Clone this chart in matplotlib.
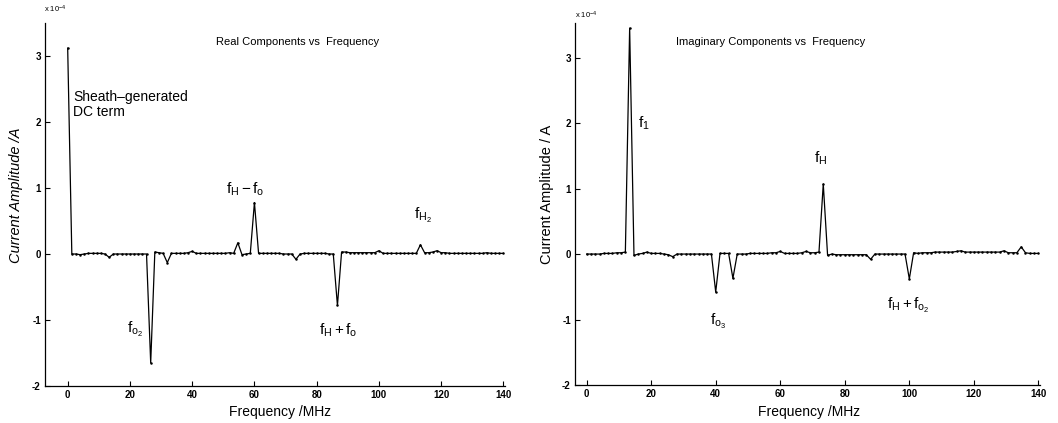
import matplotlib
matplotlib.use("Agg")
import matplotlib.pyplot as plt

plt.rcParams['font.family'] = ['Liberation Sans', 'DejaVu Sans']
plt.rcParams['mathtext.fontset'] = 'custom'
plt.rcParams['mathtext.rm'] = 'Liberation Sans'
plt.rcParams['mathtext.it'] = 'Liberation Sans'
plt.rcParams['axes.unicode_minus'] = False

# Frequency grid (MHz)
freq_mhz = [0, 1.33, 2.67, 4, 5.33, 6.67, 8, 9.33, 10.67, 12,
            13.33, 14.67, 16, 17.33, 18.67, 20, 21.33, 22.67, 24, 25.33,
            26.67, 28, 29.33, 30.67, 32, 33.33, 34.67, 36, 37.33, 38.67,
            40, 41.33, 42.67, 44, 45.33, 46.67, 48, 49.33, 50.67, 52,
            53.33, 54.67, 56, 57.33, 58.67, 60, 61.33, 62.67, 64, 65.33,
            66.67, 68, 69.33, 70.67, 72, 73.33, 74.67, 76, 77.33, 78.67,
            80, 81.33, 82.67, 84, 85.33, 86.67, 88, 89.33, 90.67, 92,
            93.33, 94.67, 96, 97.33, 98.67, 100, 101.33, 102.67, 104, 105.33,
            106.67, 108, 109.33, 110.67, 112, 113.33, 114.67, 116, 117.33, 118.67,
            120, 121.33, 122.67, 124, 125.33, 126.67, 128, 129.33, 130.67, 132,
            133.33, 134.67, 136, 137.33, 138.67, 140]

# Real components (x 1e-4 A)
real_amp = [3.12, 0.00, 0.00, -0.01, 0.00, 0.01, 0.01, 0.01, 0.01, 0.00,
            -0.05, 0.00, 0.00, 0.00, 0.00, 0.00, 0.00, 0.00, 0.00, 0.00,
            -1.65, 0.03, 0.02, 0.01, -0.13, 0.01, 0.01, 0.01, 0.01, 0.02,
            0.04, 0.01, 0.01, 0.01, 0.01, 0.01, 0.01, 0.01, 0.01, 0.02,
            0.01, 0.17, -0.01, 0.00, 0.01, 0.78, 0.01, 0.01, 0.01, 0.01,
            0.01, 0.01, 0.00, 0.00, 0.00, -0.08, 0.00, 0.01, 0.01, 0.01,
            0.01, 0.01, 0.01, 0.00, 0.00, -0.78, 0.03, 0.03, 0.02, 0.02,
            0.02, 0.02, 0.02, 0.02, 0.02, 0.05, 0.01, 0.01, 0.01, 0.01,
            0.01, 0.01, 0.01, 0.01, 0.01, 0.14, 0.02, 0.02, 0.03, 0.05,
            0.02, 0.02, 0.01, 0.01, 0.01, 0.01, 0.01, 0.01, 0.01, 0.01,
            0.01, 0.02, 0.01, 0.01, 0.01, 0.01]

# Imaginary components (x 1e-4 A)
imag_amp = [0.00, 0.00, 0.00, 0.00, 0.01, 0.01, 0.01, 0.02, 0.02, 0.03,
            3.45, -0.02, 0.00, 0.01, 0.03, 0.01, 0.01, 0.01, 0.00, -0.01,
            -0.04, 0.00, 0.00, 0.00, 0.00, 0.00, 0.00, 0.00, 0.00, 0.00,
            -0.58, 0.01, 0.01, 0.01, -0.37, 0.00, 0.00, 0.00, 0.01, 0.01,
            0.01, 0.01, 0.01, 0.02, 0.02, 0.04, 0.01, 0.01, 0.01, 0.01,
            0.02, 0.04, 0.02, 0.02, 0.03, 1.07, -0.02, 0.00, -0.01, -0.01,
            -0.01, -0.01, -0.01, -0.01, -0.01, -0.01, -0.08, 0.00, 0.00, 0.00,
            0.00, 0.00, 0.00, 0.00, 0.00, -0.38, 0.02, 0.01, 0.02, 0.02,
            0.02, 0.03, 0.03, 0.03, 0.03, 0.03, 0.04, 0.05, 0.03, 0.03,
            0.03, 0.03, 0.03, 0.03, 0.03, 0.03, 0.03, 0.05, 0.02, 0.02,
            0.02, 0.11, 0.02, 0.01, 0.01, 0.01]

x_ticks = [0, 20, 40, 60, 80, 100, 120, 140]
y_ticks = [-2, -1, 0, 1, 2, 3]

fig = plt.figure(figsize=(10.58, 4.23), dpi=100)
ax1 = fig.add_axes([0.0425, 0.0875, 0.4348, 0.858])
ax2 = fig.add_axes([0.5435, 0.0898, 0.4395, 0.856])


def style(ax, values, xlim, ylim):
    ax.plot(freq_mhz, values, color='black', lw=0.9, marker='.', ms=1.6)
    ax.set_xlim(*xlim)
    ax.set_ylim(*ylim)
    ax.set_xticks(x_ticks)
    ax.set_yticks(y_ticks)
    ax.tick_params(direction='in', length=3.5, width=0.8, labelsize=7,
                   pad=3, colors='black')
    for lbl in ax.get_xticklabels() + ax.get_yticklabels():
        lbl.set_fontweight('bold')
    ax.spines['top'].set_visible(False)
    ax.spines['right'].set_visible(False)
    ax.spines['left'].set_linewidth(0.9)
    ax.spines['bottom'].set_linewidth(0.9)


style(ax1, real_amp, (-7.3, 140.5), (-2, 3.5))
style(ax2, imag_amp, (-3.6, 140.5), (-2, 3.53))

# Titles
ax1.text(0.55, 0.948, 'Real Components vs  Frequency', transform=ax1.transAxes,
         ha='center', va='center', fontsize=8)
ax2.text(0.42, 0.947, 'Imaginary Components vs  Frequency', transform=ax2.transAxes,
         ha='center', va='center', fontsize=8)

# Scale factor labels
fig.text(44/1058, 1 - 9/423, r'x 10$^{-4}$', fontsize=5.5, ha='left', va='center')
fig.text(575/1058, 1 - 15/423, r'x 10$^{-4}$', fontsize=5.5, ha='left', va='center')

# Axis labels
fig.text(16/1058, 1 - 195/423, 'Current Amplitude /A', rotation=90, fontsize=10.5,
         style='italic', ha='center', va='center')
fig.text(547/1058, 1 - 194/423, 'Current Amplitude / A', rotation=90, fontsize=10.5,
         ha='center', va='center')
fig.text(280/1058, 1 - 412/423, 'Frequency /MHz', fontsize=10, ha='center', va='center')
fig.text(809/1058, 1 - 412/423, 'Frequency /MHz', fontsize=10, ha='center', va='center')

# Annotations - real
ax1.text(1.7, 2.26, 'Sheath\u2013generated\nDC term', fontsize=10, ha='left',
         va='center', linespacing=1.1)
ax1.text(57.0, 0.98, r'$\mathregular{f_H - f_o}$', fontsize=11, ha='center', va='center')
ax1.text(114, 0.58, r'$\mathregular{f_{H_2}}$', fontsize=11, ha='center', va='center')
ax1.text(21.6, -1.15, r'$\mathregular{f_{o_2}}$', fontsize=11, ha='center', va='center')
ax1.text(86.8, -1.15, r'$\mathregular{f_H + f_o}$', fontsize=11, ha='center', va='center')

# Annotations - imaginary
ax2.text(17.8, 2.0, r'$\mathregular{f_1}$', fontsize=11, ha='center', va='center')
ax2.text(72.5, 1.47, r'$\mathregular{f_H}$', fontsize=11, ha='center', va='center')
ax2.text(40.6, -1.03, r'$\mathregular{f_{o_3}}$', fontsize=11, ha='center', va='center')
ax2.text(99.7, -0.78, r'$\mathregular{f_H + f_{o_2}}$', fontsize=11, ha='center', va='center')

fig.savefig('out.png', dpi=100)
